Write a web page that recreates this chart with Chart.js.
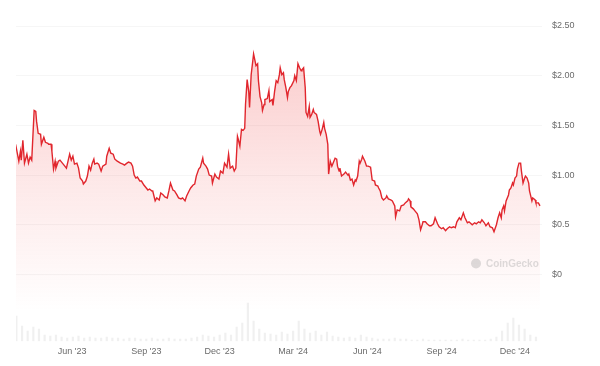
<!DOCTYPE html>
<html>
<head>
<meta charset="utf-8">
<script src="https://cdn.jsdelivr.net/npm/chart.js@4.4.1/dist/chart.umd.min.js"></script>
<style>
  html, body { margin: 0; padding: 0; background: #ffffff; }
  #wrap { width: 600px; height: 366px; position: relative; }
</style>
</head>
<body>
<div id="wrap"><canvas id="c" width="600" height="366"></canvas></div>
<script>
// Day offsets counted from 1 Jun 2023 (day 0)
const priceDays = [
  -70,-66,-64,-63,-61,-59,-56,-54,-52,-50,
  -47,-45,-44,-42,-39,-38,-35,-33,-30,-29,
  -26,-25,-23,-21,-20,-17,-15,-12,-9,-7,
  -5,-3,-1,1,3,6,8,10,13,14,
  17,19,21,23,25,27,28,31,33,36,
  38,42,43,46,48,51,53,56,58,60,
  63,65,68,70,73,75,77,79,81,84,
  86,89,91,94,96,99,100,103,105,108,
  110,113,115,118,120,122,125,127,130,132,
  135,137,140,142,145,147,150,152,154,157,
  159,162,163,166,168,170,173,174,177,179,
  182,184,187,189,192,194,196,199,201,203,
  205,206,208,210,212,214,215,217,219,220,
  222,225,226,228,230,231,233,235,236,238,
  239,242,244,245,248,249,251,253,255,257,
  258,260,262,263,265,267,268,270,272,275,
  276,278,280,282,284,285,287,289,290,292,
  294,295,297,299,300,303,305,307,308,310,
  312,313,315,317,318,320,322,323,326,328,
  329,331,332,334,337,339,342,343,345,347,
  349,351,352,354,356,357,359,360,363,365,
  367,370,372,375,376,379,380,382,384,386,
  389,390,392,395,397,400,401,403,406,408,
  411,413,416,417,419,420,423,425,428,430,
  432,434,435,438,440,443,445,448,450,453,
  455,458,460,463,465,468,470,473,475,477,
  480,482,485,487,490,492,496,499,501,504,
  506,508,511,513,516,518,521,523,526,528,
  530,532,533,535,536,538,541,542,544,546,
  547,549,551,552,554,556,557,559,561,562,
  564,566,567,570,571,574,575,578,580
];
const prices = [
  1.31,1.14,1.24,1.15,1.35,1.12,1.21,1.12,1.18,1.15,
  1.65,1.64,1.54,1.42,1.41,1.31,1.38,1.33,1.32,1.31,
  1.31,1.24,1.06,1.14,1.07,1.14,1.15,1.12,1.09,1.07,
  1.14,1.21,1.15,1.19,1.11,1.12,1.07,0.97,0.94,0.91,
  0.94,0.99,1.09,1.05,1.12,1.16,1.11,1.12,1.11,1.04,
  1.09,1.11,1.19,1.27,1.22,1.21,1.16,1.14,1.13,1.12,
  1.11,1.10,1.12,1.13,1.12,1.09,1.00,0.97,0.98,0.94,
  0.94,0.90,0.88,0.85,0.86,0.84,0.84,0.74,0.77,0.75,
  0.82,0.80,0.78,0.77,0.84,0.92,0.85,0.84,0.80,0.77,
  0.76,0.77,0.74,0.79,0.84,0.87,0.90,0.91,0.99,1.06,
  1.08,1.17,1.12,1.09,1.06,1.00,0.99,0.92,1.01,0.98,
  0.96,1.04,1.02,1.12,1.08,1.21,1.07,1.09,1.04,1.07,
  1.39,1.36,1.29,1.46,1.45,1.47,1.71,1.96,1.84,1.68,
  2.01,2.22,2.18,2.10,2.12,1.95,1.79,1.73,1.65,1.71,
  1.76,1.77,1.85,1.74,1.76,1.70,1.84,1.95,1.93,2.01,
  2.08,2.01,2.03,1.96,1.88,1.78,1.84,1.88,1.90,1.95,
  2.00,1.95,2.12,2.08,2.05,2.06,2.08,1.88,1.63,1.59,
  1.69,1.58,1.61,1.66,1.63,1.61,1.54,1.44,1.41,1.46,
  1.53,1.47,1.41,1.31,1.01,1.14,1.09,1.11,1.17,1.16,
  1.09,1.04,1.07,0.99,1.01,1.03,1.00,1.01,0.95,0.96,
  0.90,0.95,0.94,0.99,1.14,1.12,1.16,1.19,1.14,1.09,
  1.09,1.08,0.95,0.94,0.90,0.89,0.87,0.84,0.77,0.75,
  0.77,0.79,0.76,0.75,0.74,0.69,0.58,0.65,0.64,0.69,
  0.70,0.72,0.74,0.76,0.74,0.68,0.66,0.64,0.61,0.55,
  0.45,0.50,0.53,0.53,0.51,0.49,0.49,0.51,0.57,0.51,
  0.48,0.46,0.47,0.44,0.46,0.48,0.47,0.48,0.47,0.53,
  0.57,0.55,0.62,0.57,0.52,0.53,0.50,0.52,0.51,0.53,
  0.52,0.55,0.52,0.49,0.52,0.48,0.47,0.43,0.50,0.57,
  0.62,0.57,0.65,0.69,0.64,0.74,0.80,0.85,0.87,0.92,
  0.90,0.97,0.99,1.06,1.12,1.12,1.04,0.92,0.97,0.99,
  0.97,0.92,0.84,0.74,0.77,0.75,0.72,0.72,0.69
];

// Weekly trading volume (relative units), first week starts at day -69
const volumeStartDay = -69;
const volumeStepDays = 7;
const volumes = [
  25,15,10,14,12,6,5,6,4,3,
  4,5,3,4,3,3,4,3,3,2,
  3,3,2,2,3,2,2,3,2,2,
  2,3,4,6,5,4,6,8,6,14,
  18,38,20,12,8,7,6,9,7,10,
  20,12,8,10,6,9,5,4,3,4,
  3,6,4,3,2,2,2,3,2,2,
  1,1,2,1,1,1,1,1,1,2,
  1,1,1,1,2,4,10,18,23,16,
  12,6,4
];

const xTickDays   = [0, 92, 183, 274, 366, 458, 549];
const xTickLabels = ["Jun '23", "Sep '23", "Dec '23", "Mar '24", "Jun '24", "Sep '24", "Dec '24"];
const yTickValues = [0, 0.5, 1, 1.5, 2, 2.5];
const yTickLabels = ["$0", "$0.5", "$1.00", "$1.50", "$2.00", "$2.50"];

const pricePoints = priceDays.map((d, i) => ({ x: d, y: prices[i] }));
const volumePoints = volumes.map((v, i) => ({ x: volumeStartDay + i * volumeStepDays, y: v }));

const FONT = "'Liberation Sans', Arial, sans-serif";

const watermark = {
  id: 'watermark',
  afterDatasetsDraw(chart) {
    const { ctx } = chart;
    const y = chart.scales.y.getPixelForValue(0.11);
    ctx.save();
    ctx.fillStyle = 'rgba(170,170,170,0.4)';
    ctx.beginPath();
    ctx.arc(476, y, 5, 0, Math.PI * 2);
    ctx.fill();
    ctx.font = "bold 10px " + FONT;
    ctx.textBaseline = 'middle';
    ctx.fillText('CoinGecko', 486, y + 1);
    ctx.restore();
  }
};

new Chart(document.getElementById('c'), {
  data: {
    datasets: [
      {
        type: 'line',
        data: pricePoints,
        yAxisID: 'y',
        borderColor: '#e1262d',
        borderWidth: 1.4,
        pointRadius: 0,
        tension: 0,
        fill: 'start',
        order: 0,
        backgroundColor: (c) => {
          const chart = c.chart;
          const area = chart.chartArea;
          if (!area) return 'rgba(240,70,70,0.15)';
          const g = chart.ctx.createLinearGradient(0, area.top, 0, area.bottom - 30);
          g.addColorStop(0, 'rgba(240,70,70,0.30)');
          g.addColorStop(0.55, 'rgba(240,70,70,0.12)');
          g.addColorStop(1, 'rgba(240,70,70,0)');
          return g;
        }
      },
      {
        type: 'bar',
        data: volumePoints,
        yAxisID: 'yVol',
        backgroundColor: 'rgba(205,205,205,0.3)',
        barThickness: 1.5,
        order: 1
      }
    ]
  },
  options: {
    responsive: false,
    animation: false,
    layout: { padding: { left: 16, top: 26, right: 0, bottom: 4 } },
    plugins: { legend: { display: false }, tooltip: { enabled: false } },
    scales: {
      x: {
        type: 'linear',
        offset: false,
        min: -69.5,
        max: 582.5,
        grid: { display: false, drawTicks: false, offset: false },
        border: { display: false },
        afterBuildTicks: (s) => { s.ticks = xTickDays.map(v => ({ value: v })); },
        ticks: {
          autoSkip: false,
          maxRotation: 0,
          padding: 5,
          color: '#6b6b6b',
          font: { size: 9, family: FONT },
          callback: (v) => { const i = xTickDays.indexOf(v); return i >= 0 ? xTickLabels[i] : ''; }
        }
      },
      y: {
        position: 'right',
        min: -0.6716,
        max: 2.5,
        grid: { color: '#f6f6f6', drawTicks: false },
        border: { display: false },
        afterBuildTicks: (s) => { s.ticks = yTickValues.map(v => ({ value: v })); },
        afterFit: (s) => { s.width = 58; },
        ticks: {
          padding: 10,
          color: '#6b6b6b',
          font: { size: 9, family: FONT },
          callback: (v) => { const i = yTickValues.indexOf(v); return i >= 0 ? yTickLabels[i] : ''; }
        }
      },
      yVol: {
        display: false,
        min: 0,
        max: 315
      }
    }
  },
  plugins: [watermark]
});
</script>
</body>
</html>
